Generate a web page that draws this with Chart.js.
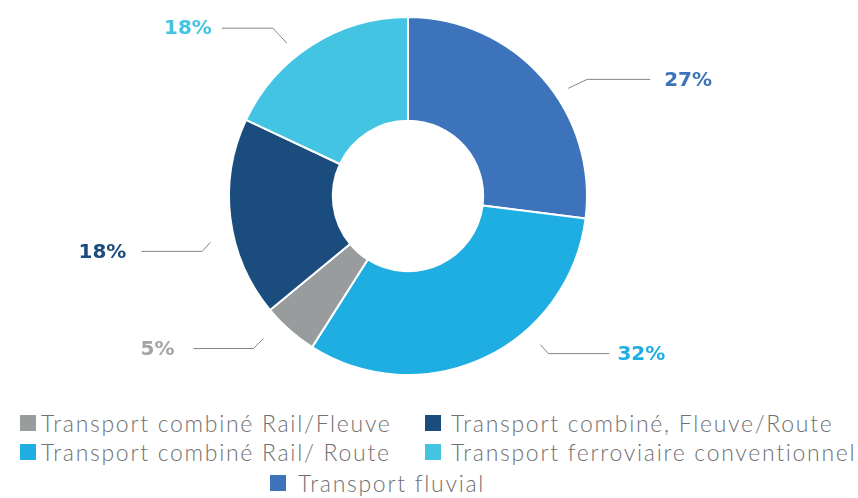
<!DOCTYPE html>
<html lang="fr">
<head>
<meta charset="utf-8">
<script src="https://cdn.jsdelivr.net/npm/chart.js@4"></script>
<style>
  html, body { margin: 0; padding: 0; background: #fff; }
  #wrap { position: relative; width: 858px; height: 498px; overflow: hidden; }
  #chartBox { position: absolute; left: 0; top: 0; width: 858px; height: 400px; }
  #legend {
    position: absolute; left: 20px; top: 411px; width: 838px;
    display: grid; grid-template-columns: 405px auto; row-gap: 5px;
    font-family: "Lato", sans-serif; font-weight: 300; font-size: 23px;
    letter-spacing: 1.7px;
    color: #6f7072; line-height: 24px;
  }
  #legend .item { display: flex; align-items: center; white-space: nowrap; }
  #legend .box { width: 16px; height: 16px; margin-right: 5px; flex: none; }
  #legend .item.col2 .box { margin-right: 10px; }
  #legend .item.last { grid-column: 1 / span 2; margin-left: 250px; margin-top: 2px; }
  #legend .item.last .box { margin-right: 12px; }
</style>
</head>
<body>
<div id="wrap">
  <div id="chartBox"><canvas id="repartitionChart"></canvas></div>
  <div id="legend"></div>
</div>
<script>
// répartition par mode de transport (%), dans l'ordre de tracé du donut
const categories = [
    'Transport fluvial',
    'Transport combiné Rail/ Route',
    'Transport combiné Rail/Fleuve',
    'Transport combiné, Fleuve/Route',
    'Transport ferroviaire conventionnel'
];
const shares = [27, 32, 5, 18, 18];
const sliceColors = ['#3d73ba', '#1faee2', '#999c9d', '#1b4c7e', '#44c4e3'];
const labelColors = ['#3d73ba', '#1faee2', '#a2a5a6', '#1b4c7e', '#44c4e3'];
// ordre d'affichage de la légende
const legendOrder = [2, 3, 1, 4, 0];

// placement des étiquettes : décalage angulaire (deg), distance au bord, coude (dx, dy), longueur du trait, écart au texte
const calloutLayout = [
    { nudge: 7.5,   dist: 14, elbow: [19, -9],  arm: 63, gap: 14 },
    { nudge: -16.5, dist: 20, elbow: [8, 9],    arm: 61, gap: 8 },
    { nudge: 4,     dist: 24, elbow: [-10, 10], arm: 60, gap: 19 },
    { nudge: -6,    dist: 24, elbow: [-8, 9],   arm: 61, gap: 15 },
    { nudge: -6,    dist: 16, elbow: [-14, -15], arm: 51, gap: 10 }
];

const calloutPlugin = {
    id: 'callouts',
    afterDatasetsDraw(chart) {
        const ctx = chart.ctx;
        const meta = chart.getDatasetMeta(0);
        ctx.save();
        ctx.font = 'bold 20px "DejaVu Sans", sans-serif';
        ctx.textBaseline = 'middle';
        meta.data.forEach((arc, i) => {
            const lay = calloutLayout[i];
            const mid = (arc.startAngle + arc.endAngle) / 2 + lay.nudge * Math.PI / 180;
            const r = arc.outerRadius + lay.dist;
            const tipX = arc.x + Math.cos(mid) * r;
            const tipY = arc.y + Math.sin(mid) * r;
            const elX = tipX + lay.elbow[0];
            const elY = tipY + lay.elbow[1];
            const dir = Math.cos(mid) >= 0 ? 1 : -1;
            const endX = elX + dir * lay.arm;

            ctx.strokeStyle = '#858585';
            ctx.lineWidth = 1;
            ctx.beginPath();
            ctx.moveTo(tipX, tipY);
            ctx.lineTo(elX, elY);
            ctx.lineTo(endX, elY);
            ctx.stroke();

            ctx.fillStyle = labelColors[i];
            ctx.textAlign = dir > 0 ? 'left' : 'right';
            ctx.fillText(shares[i] + '%', endX + dir * lay.gap, elY + 1);
        });
        ctx.restore();
    }
};

new Chart(document.getElementById('repartitionChart'), {
    type: 'doughnut',
    data: {
        labels: categories,
        datasets: [{
            data: shares,
            backgroundColor: sliceColors,
            borderColor: '#ffffff',
            borderWidth: 2
        }]
    },
    options: {
        responsive: true,
        maintainAspectRatio: false,
        animation: false,
        cutout: '42%',
        layout: { padding: { top: 16, bottom: 24, left: 0, right: 42 } },
        plugins: {
            legend: { display: false },
            tooltip: { enabled: false }
        }
    },
    plugins: [calloutPlugin]
});

// légende HTML sur deux colonnes
const legendEl = document.getElementById('legend');
legendOrder.forEach((idx, n) => {
    const item = document.createElement('div');
    item.className = 'item' + (n % 2 === 1 ? ' col2' : '') + (n === legendOrder.length - 1 ? ' last' : '');
    const box = document.createElement('span');
    box.className = 'box';
    box.style.background = sliceColors[idx];
    const txt = document.createElement('span');
    txt.textContent = categories[idx];
    item.appendChild(box);
    item.appendChild(txt);
    legendEl.appendChild(item);
});
</script>
</body>
</html>
